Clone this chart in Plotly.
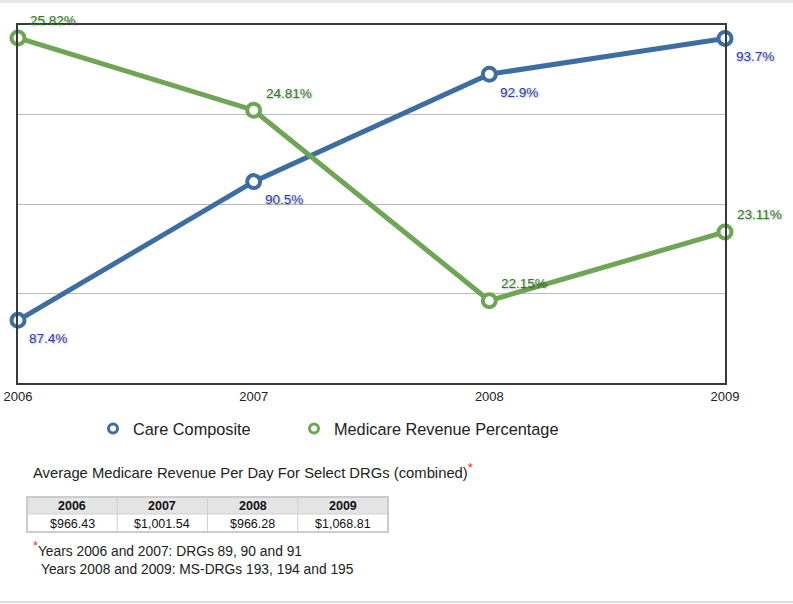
import plotly.graph_objects as go

years = [2006, 2007, 2008, 2009]
care_composite = [87.4, 90.5, 92.9, 93.7]
medicare_pct = [25.82, 24.81, 22.15, 23.11]
care_labels = ["87.4%", "90.5%", "92.9%", "93.7%"]
medicare_labels = ["25.82%", "24.81%", "22.15%", "23.11%"]
table_years = ["2006", "2007", "2008", "2009"]
table_values = ["$966.43", "$1,001.54", "$966.28", "$1,068.81"]

W, H = 793, 604
FONT = "Liberation Sans, Arial, Helvetica, sans-serif"
BLUE = "#3d6ea2"
GREEN = "#6ea655"
BLUE_TXT = "#2b3fae"
GREEN_TXT = "#2e7a22"
SHADOW = "1px 1px 2px rgba(0,0,0,0.3)"


def px(x):
    return x / W


def py(y):
    return 1 - y / H


fig = go.Figure()

fig.add_trace(go.Scatter(
    x=years, y=care_composite, mode="lines+markers", name="Care Composite",
    line=dict(color=BLUE, width=5),
    marker=dict(symbol="circle", size=13, color="white", line=dict(color=BLUE, width=4)),
    cliponaxis=False, showlegend=False, yaxis="y", hoverinfo="skip"))
fig.add_trace(go.Scatter(
    x=years, y=medicare_pct, mode="lines+markers", name="Medicare Revenue Percentage",
    line=dict(color=GREEN, width=5),
    marker=dict(symbol="circle", size=13, color="white", line=dict(color=GREEN, width=4)),
    cliponaxis=False, showlegend=False, yaxis="y2", hoverinfo="skip"))

# legend entries (marker only)
fig.add_trace(go.Scatter(
    x=[None], y=[None], mode="markers", name="Care Composite", legend="legend",
    marker=dict(symbol="circle", size=9, color="white", line=dict(color=BLUE, width=3))))
fig.add_trace(go.Scatter(
    x=[None], y=[None], mode="markers", name="Medicare Revenue Percentage", legend="legend2",
    marker=dict(symbol="circle", size=9, color="white", line=dict(color=GREEN, width=3))))

annotations = []
for x, y, t in zip(years, care_composite, care_labels):
    annotations.append(dict(
        x=x, y=y, xref="x", yref="y", text=t, showarrow=False,
        xanchor="left", yanchor="middle", xshift=9, yshift=-18,
        font=dict(family=FONT, size=13.5, color=BLUE_TXT, shadow=SHADOW)))
for x, y, t in zip(years, medicare_pct, medicare_labels):
    annotations.append(dict(
        x=x, y=y, xref="x", yref="y2", text=t, showarrow=False,
        xanchor="left", yanchor="middle", xshift=10, yshift=17,
        font=dict(family=FONT, size=13.5, color=GREEN_TXT, shadow=SHADOW)))

annotations.append(dict(
    x=px(31), y=py(470), xref="paper", yref="paper", showarrow=False,
    xanchor="left", yanchor="middle",
    text="Average Medicare Revenue Per Day For Select DRGs (combined)<sup><span style='color:#e0341e;font-size:13px'>*</span></sup>",
    font=dict(family=FONT, size=14.8, color="#222")))
annotations.append(dict(
    x=px(31), y=py(549), xref="paper", yref="paper", showarrow=False,
    xanchor="left", yanchor="middle",
    text="<sup><span style='color:#e0341e;font-size:12.5px'>*</span></sup>Years 2006 and 2007: DRGs 89, 90 and 91",
    font=dict(family=FONT, size=13.8, color="#222")))
annotations.append(dict(
    x=px(39), y=py(569), xref="paper", yref="paper", showarrow=False,
    xanchor="left", yanchor="middle",
    text="Years 2008 and 2009: MS-DRGs 193, 194 and 195",
    font=dict(family=FONT, size=13.8, color="#222")))

# table (header + one data row) built from the lists
T_X0, T_X1 = 27, 388
T_Y0, T_YM, T_Y1 = 497, 514, 532
n = len(table_years)
cw = (T_X1 - T_X0) / n
shapes = [
    dict(type="rect", xref="paper", yref="paper", x0=0, x1=1, y0=py(3), y1=1,
         fillcolor="#e6e6e6", line_width=0, layer="below"),
    dict(type="line", xref="paper", yref="paper", x0=0, x1=1, y0=py(602), y1=py(602),
         line=dict(color="#dddddd", width=2)),
    dict(type="rect", xref="paper", yref="paper", x0=px(T_X0), x1=px(T_X1),
         y0=py(T_YM), y1=py(T_Y0), fillcolor="#e4e4e4", line_width=0),
    dict(type="rect", xref="paper", yref="paper", x0=px(T_X0), x1=px(T_X1),
         y0=py(T_Y1), y1=py(T_Y0), fillcolor="rgba(0,0,0,0)",
         line=dict(color="#cccccc", width=2)),
    dict(type="line", xref="paper", yref="paper", x0=px(T_X0), x1=px(T_X1),
         y0=py(T_YM), y1=py(T_YM), line=dict(color="#d0d0d0", width=1)),
]
for i in range(n):
    cx = T_X0 + cw * (i + 0.5)
    if i > 0:
        xl = T_X0 + cw * i
        shapes.append(dict(type="line", xref="paper", yref="paper", x0=px(xl), x1=px(xl),
                           y0=py(T_Y1), y1=py(T_Y0), line=dict(color="#d0d0d0", width=1)))
    annotations.append(dict(
        x=px(cx), y=py((T_Y0 + T_YM) / 2 + 0.5), xref="paper", yref="paper", showarrow=False,
        xanchor="center", yanchor="middle", text=f"<b>{table_years[i]}</b>",
        font=dict(family=FONT, size=12.5, color="#111")))
    annotations.append(dict(
        x=px(cx), y=py((T_YM + T_Y1) / 2 + 0.5), xref="paper", yref="paper", showarrow=False,
        xanchor="center", yanchor="middle", text=table_values[i],
        font=dict(family=FONT, size=12.5, color="#111")))

fig.update_layout(
    width=W, height=H,
    margin=dict(l=0, r=0, t=0, b=0, autoexpand=False),
    paper_bgcolor="white", plot_bgcolor="white",
    font=dict(family=FONT, color="#222"),
    xaxis=dict(domain=[px(18), px(725)], range=[2006, 2009], automargin=False,
               tickvals=years, ticktext=[str(y) for y in years],
               showgrid=False, zeroline=False, ticks="",
               showline=True, mirror=True, linecolor="#3a3a3a", linewidth=2,
               tickfont=dict(family=FONT, size=13, color="#222")),
    yaxis=dict(domain=[py(383), py(25)], range=[86, 94], dtick=2, automargin=False,
               showgrid=True, gridcolor="#bbbbbb", gridwidth=1,
               zeroline=False, showticklabels=False, ticks="",
               showline=True, mirror=True, linecolor="#3a3a3a", linewidth=2),
    yaxis2=dict(domain=[py(383), py(25)], range=[21, 26], overlaying="y", automargin=False,
                showgrid=False, zeroline=False, showticklabels=False,
                showline=False, ticks=""),
    legend=dict(orientation="h", x=px(93), y=py(429), xanchor="left", yanchor="middle",
                font=dict(family=FONT, size=16.3, color="#222"),
                bgcolor="rgba(0,0,0,0)"),
    legend2=dict(orientation="h", x=px(294), y=py(429), xanchor="left", yanchor="middle",
                 font=dict(family=FONT, size=16.3, color="#222"),
                 bgcolor="rgba(0,0,0,0)"),
    annotations=annotations,
    shapes=shapes,
    hovermode=False,
)

fig.write_html("out.html")
